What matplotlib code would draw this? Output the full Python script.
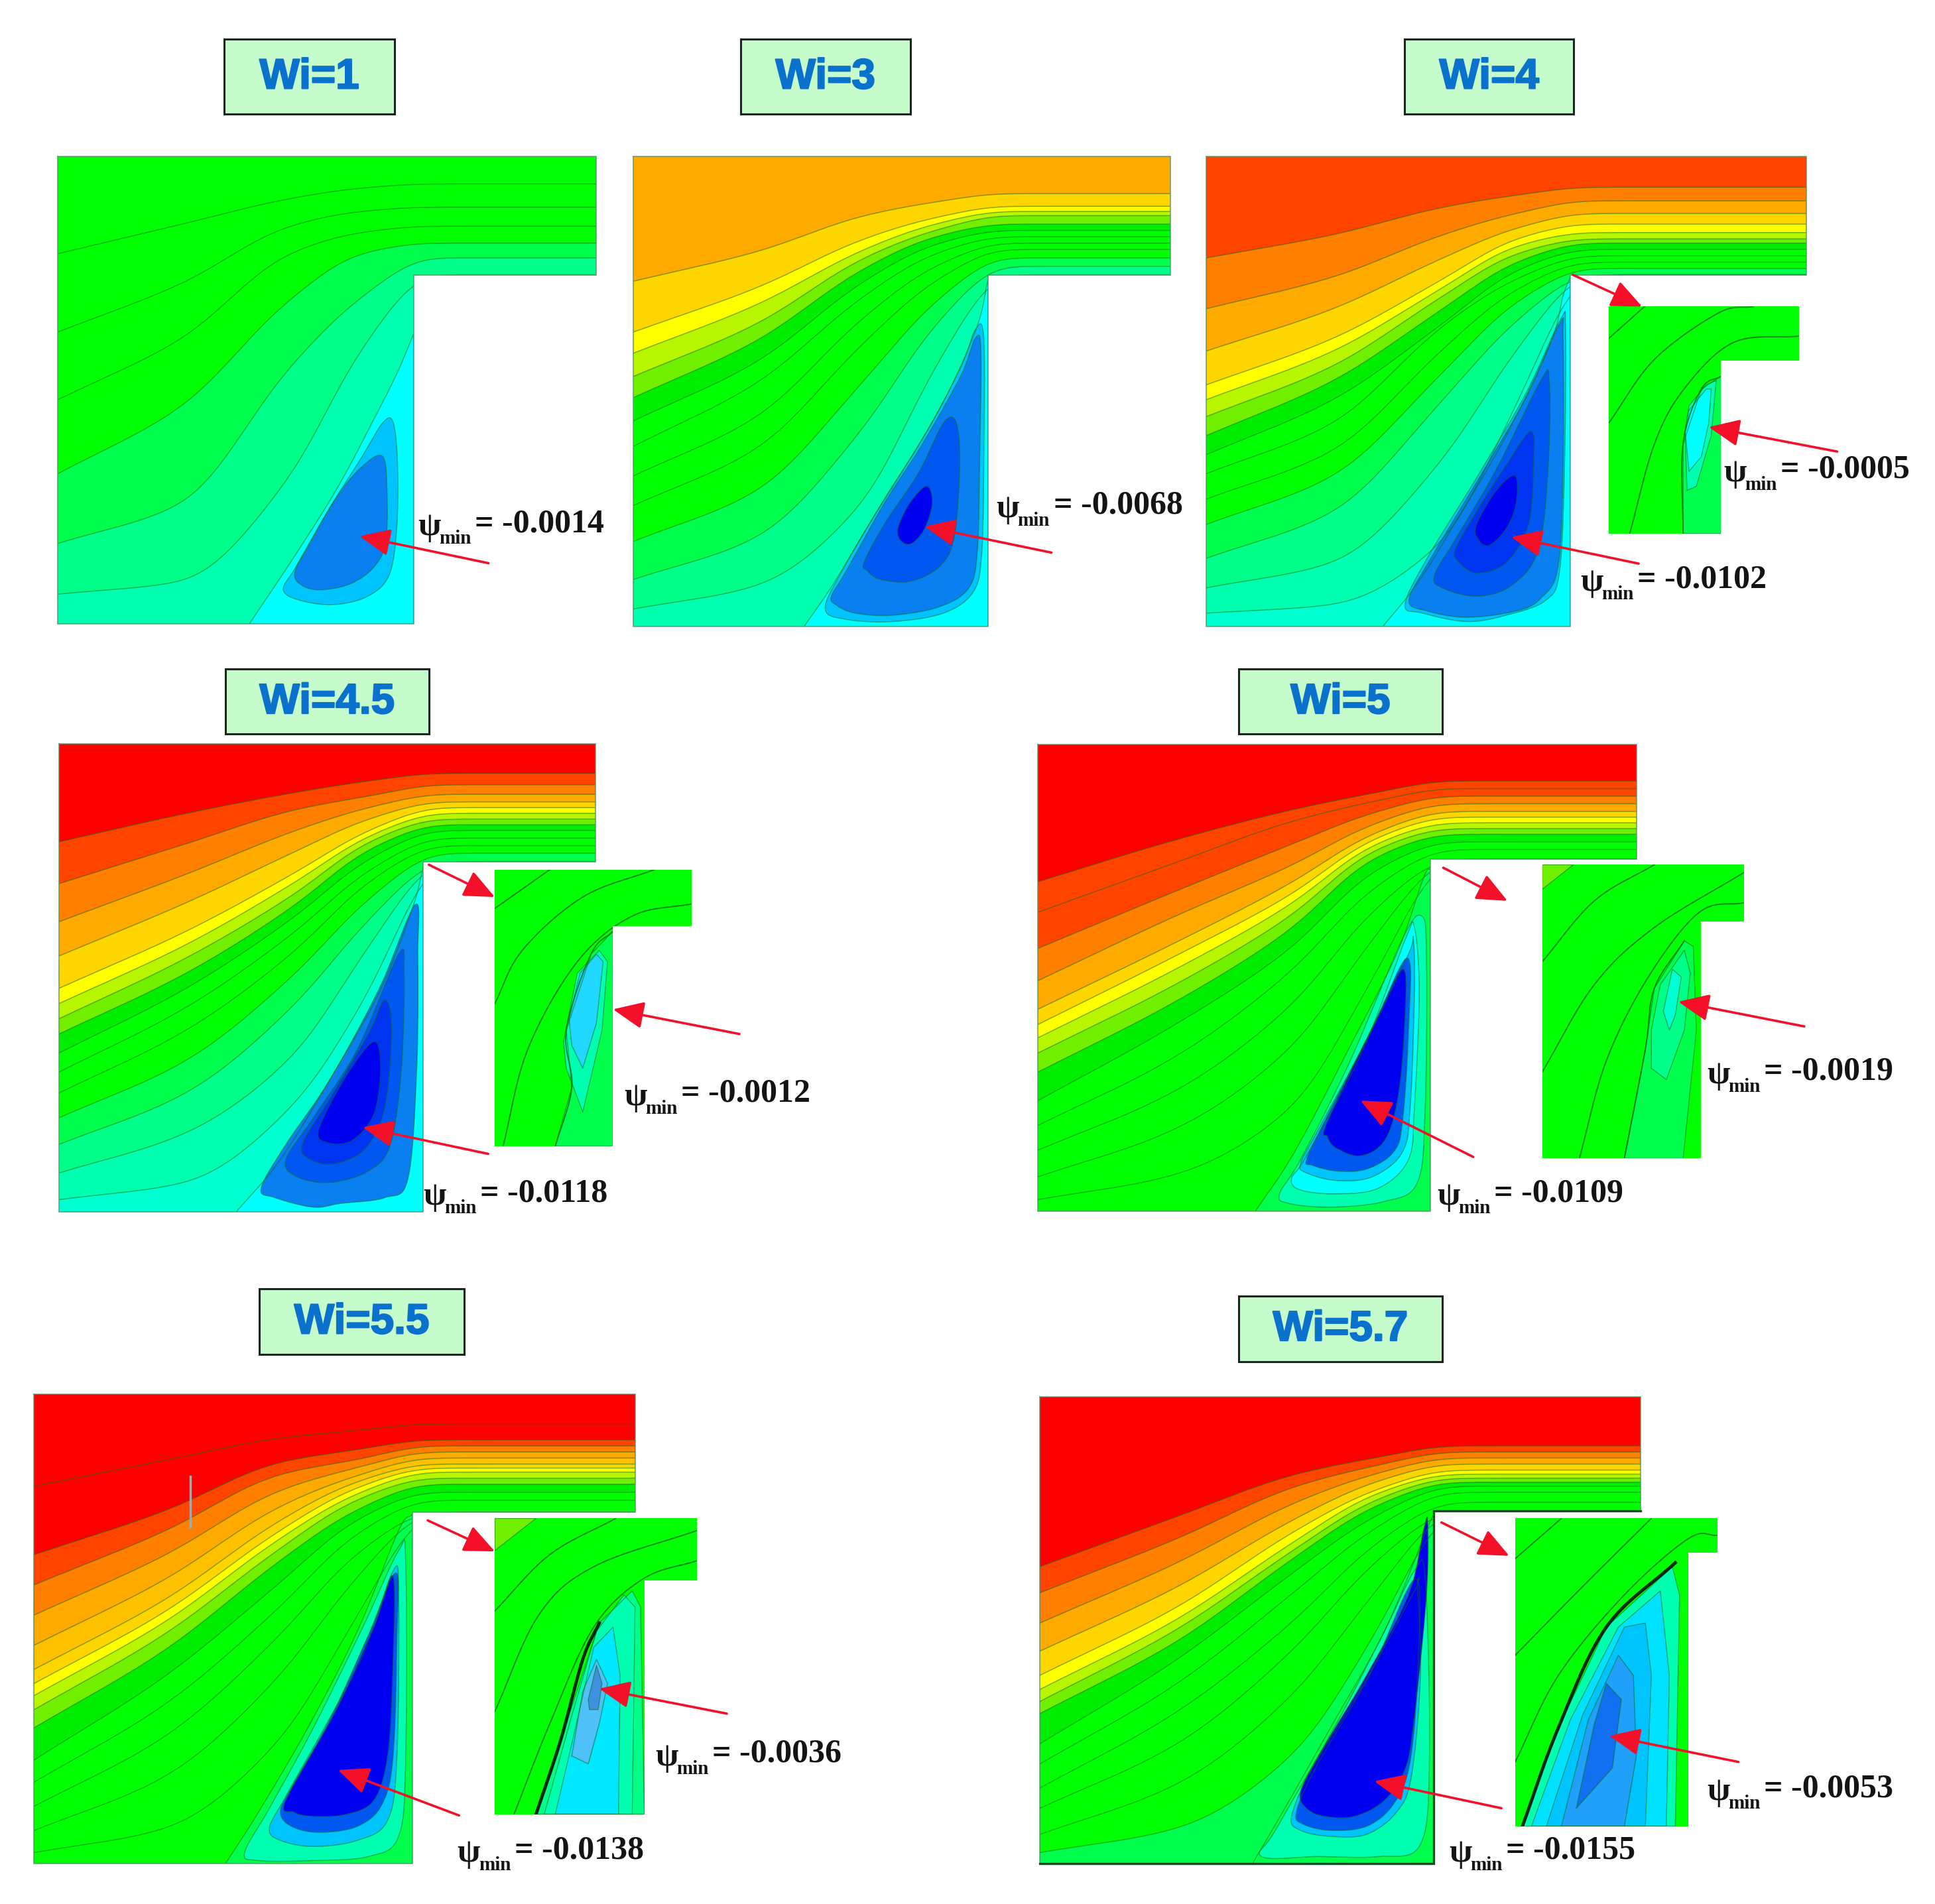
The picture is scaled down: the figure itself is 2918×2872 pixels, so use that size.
import numpy as np
import matplotlib
matplotlib.use("Agg")
import matplotlib.pyplot as plt
import matplotlib.patheffects as pe
from matplotlib.patches import PathPatch, Polygon, Rectangle, FancyArrowPatch
from matplotlib.path import Path

W_PX, H_PX = 2918, 2872
SIDE = 1568.0

# ---- colours of the contour levels ----
RED, ORR, ORA, AMB, GOLD, YEL = "#FF0000", "#FF4400", "#FF7F00", "#FFAA00", "#FFD500", "#FFFF00"
LIM, LGR, GRN, GRD = "#B8F500", "#70F000", "#00FF00", "#00EE00"
SG1, SG2, SG3, SG4, CYA = "#00FF4C", "#00FF88", "#00FFB0", "#00FFD0", "#00FFFF"
SKY, AZU, BL1, BL2, BLU = "#00C4FF", "#0A80F0", "#0058F0", "#0034F0", "#0000F0"

# ---- every table is read from the picture, in coordinates of a crop (x, y, w, h) ----
# columns of a contour: y at 0, .35, .65, .85 of the upstream width, then y in the channel
WI1_FRAME = (0, 0, 1000, 1000)
WI1_BOX = (530, 92, 933, 270)
WI1_GEOM = (137, 370, 1410, 650, 978, 1475)
WI1_TOP = GRN
WI1_CURVES = [[600, 530, 470, 445, 435], [785, 670, 535, 500, 490], [945, 800, 600, 550, 535],
              [1120, 960, 710, 600, 575], [1285, 1190, 870, 705, 610], [1405, 1375, 1130, 830, 650]]
WI1_COLORS = [GRN, GRN, GRN, SG1, SG2, SG3]
WI1_WEDGE = [(590, 1475), (700, 1310), (800, 1150), (890, 980), (940, 880), (978, 790)]
WI1_BLOBS = [(SKY, [(670, 1395), (700, 1340), (780, 1200), (850, 1090), (905, 1000), (930, 1000), (940, 1100),
                    (938, 1250), (920, 1360), (870, 1410), (790, 1430), (710, 1420)]),
             (AZU, [(697, 1355), (730, 1290), (800, 1170), (860, 1100), (905, 1080), (915, 1160), (912, 1280),
                    (885, 1340), (830, 1380), (760, 1395), (715, 1385)])]

WI3_FRAME = (900, 0, 1000, 1000)
WI3_BOX = (340, 92, 741, 270)
WI3_GEOM = (87, 370, 1357, 650, 925, 1482)
WI3_TOP = AMB
WI3_CURVES = [[665, 595, 510, 478, 458], [785, 680, 565, 515, 488], [835, 720, 590, 530, 500],
              [890, 765, 610, 545, 510], [940, 805, 635, 560, 530], [995, 855, 665, 578, 545],
              [1055, 905, 700, 600, 560], [1125, 985, 750, 630, 575], [1195, 1060, 810, 665, 590],
              [1280, 1160, 900, 715, 610], [1370, 1270, 1010, 770, 630], [1440, 1385, 1185, 870, 650]]
WI3_COLORS = [GOLD, YEL, LIM, LGR, GRD, GRN, GRN, GRN, GRN, SG1, SG2, SG3]
WI3_WEDGE = [(490, 1482), (560, 1380), (650, 1230), (750, 1070), (830, 930), (900, 770), (925, 660)]
WI3_BLOBS = [(SKY, [(540, 1440), (580, 1350), (680, 1180), (775, 1030), (860, 870), (895, 780), (915, 800),
                    (915, 1100), (910, 1310), (890, 1400), (820, 1450), (700, 1470), (590, 1465)]),
             (AZU, [(555, 1410), (590, 1350), (680, 1190), (770, 1050), (860, 890), (895, 800), (908, 830),
                    (905, 1100), (900, 1300), (880, 1390), (810, 1435), (700, 1455), (610, 1450), (565, 1430)]),
             (BL1, [(632, 1330), (680, 1240), (760, 1120), (820, 1000), (850, 1000), (858, 1100), (845, 1270),
                    (810, 1340), (740, 1375), (670, 1370), (640, 1350)]),
             (BLU, [(712, 1250), (740, 1190), (780, 1150), (793, 1190), (775, 1250), (745, 1285), (720, 1280)])]

WI4_FRAME = (1750, 0, 1168, 1000)
WI4_BOX = (494, 92, 837, 270)
WI4_GEOM = (93, 370, 1307, 650, 830, 1482)
WI4_TOP = ORR
WI4_CURVES = [[610, 555, 490, 462, 443], [730, 655, 555, 505, 475], [830, 730, 610, 540, 505],
              [910, 800, 660, 565, 530], [945, 830, 680, 582, 550], [985, 865, 700, 600, 565],
              [1030, 900, 730, 620, 575], [1075, 945, 765, 640, 590], [1120, 1000, 770, 660, 605],
              [1180, 1065, 825, 685, 620], [1240, 1125, 880, 715, 635], [1320, 1210, 945, 760, 650],
              [1390, 1330, 1085, 830, 650], [1450, 1430, 1280, 960, 650]]
WI4_COLORS = [ORA, AMB, GOLD, YEL, LIM, LGR, GRD, GRN, GRN, GRN, SG1, SG2, SG3, SG4]
WI4_WEDGE = [(450, 1482), (520, 1380), (600, 1230), (700, 1030), (790, 810), (815, 700), (830, 655)]
WI4_BLOBS = [(SKY, [(495, 1430), (540, 1320), (640, 1130), (740, 930), (810, 755), (820, 780), (818, 1100),
                    (808, 1350), (780, 1420), (700, 1455), (620, 1470), (530, 1450)]),
             (AZU, [(503, 1420), (545, 1325), (640, 1140), (740, 940), (808, 765), (815, 800), (815, 1100),
                    (805, 1340), (770, 1415), (720, 1445), (620, 1460), (540, 1445)]),
             (BL1, [(555, 1360), (600, 1270), (680, 1110), (770, 900), (787, 900), (785, 1100), (765, 1300),
                    (710, 1385), (640, 1410), (570, 1390)]),
             (BL2, [(597, 1300), (640, 1210), (700, 1100), (750, 1020), (755, 1100), (745, 1240), (700, 1330),
                    (640, 1355), (605, 1330)]),
             (BLU, [(640, 1240), (680, 1160), (718, 1125), (720, 1190), (700, 1250), (665, 1290), (643, 1275)])]

WI45_FRAME = (0, 980, 1300, 900)
WI45_BOX = (410, 50, 780, 222)
WI45_GEOM = (107, 248, 1083, 557, 770, 1477)
WI45_TOP = RED
WI45_CURVES = [[505, 430, 375, 345, 325], [615, 510, 420, 385, 355], [715, 590, 475, 415, 380],
               [805, 665, 530, 445, 400], [890, 740, 585, 475, 415], [930, 775, 610, 490, 430],
               [970, 810, 640, 505, 445], [1010, 850, 670, 525, 460], [1060, 890, 700, 550, 475],
               [1110, 940, 740, 580, 495], [1165, 1000, 790, 610, 515], [1230, 1080, 850, 655, 535],
               [1300, 1165, 930, 710, 557], [1375, 1270, 1060, 780, 557], [1445, 1400, 1190, 900, 557]]
WI45_COLORS = [ORR, ORA, AMB, GOLD, YEL, LIM, LGR, GRD, GRN, GRN, GRN, SG1, SG2, SG3, SG4]
WI45_WEDGE = [(430, 1477), (510, 1340), (600, 1130), (690, 900), (750, 680), (770, 570)]
WI45_BLOBS = [(AZU, [(475, 1415), (520, 1300), (600, 1130), (690, 890), (755, 670), (760, 800), (758, 1100),
                     (742, 1390), (700, 1440), (620, 1455), (570, 1465), (500, 1440)]),
              (BL1, [(520, 1340), (570, 1230), (650, 1050), (725, 800), (735, 850), (730, 1100), (710, 1300),
                     (670, 1370), (600, 1400), (540, 1385)]),
              (BL2, [(550, 1300), (600, 1180), (670, 1010), (700, 920), (712, 1000), (700, 1200), (665, 1310),
                     (610, 1350), (565, 1340)]),
              (BLU, [(580, 1260), (630, 1120), (680, 1030), (692, 1100), (680, 1220), (640, 1290), (595, 1295)])]

WI5_FRAME = (1500, 980, 1418, 900)
WI5_BOX = (407, 50, 746, 222)
WI5_GEOM = (72, 250, 1070, 550, 727, 1475)
WI5_TOP = RED
WI5_CURVES = [[610, 500, 420, 378, 345], [690, 560, 450, 400, 365], [785, 635, 510, 430, 385],
              [870, 700, 565, 460, 405], [945, 770, 610, 485, 425], [985, 805, 640, 500, 440],
              [1020, 840, 665, 515, 455], [1060, 880, 695, 530, 470], [1110, 925, 730, 550, 485],
              [1185, 985, 780, 585, 505], [1250, 1070, 840, 630, 525], [1315, 1160, 930, 690, 550],
              [1385, 1260, 1040, 765, 550], [1445, 1380, 1200, 870, 550]]
WI5_COLORS = [ORR, ORR, ORA, AMB, GOLD, YEL, LIM, LGR, GRD, GRN, GRN, GRN, GRN, GRN]
WI5_WEDGE = [(435, 1475), (500, 1320), (590, 1050), (670, 800), (715, 600), (727, 575)]
WI5_WEDGE_COLOR = SG1
WI5_BLOBS = [(SG3, [(475, 1430), (510, 1340), (590, 1090), (680, 760), (712, 700), (720, 800), (718, 1200),
                    (705, 1400), (650, 1450), (560, 1465), (490, 1455)]),
             (CYA, [(495, 1390), (520, 1330), (612, 1060), (685, 760), (700, 730), (708, 900), (700, 1200),
                    (690, 1340), (640, 1415), (570, 1430), (510, 1420)]),
             (SKY, [(510, 1350), (540, 1260), (622, 1020), (690, 800), (698, 760), (700, 900), (693, 1200),
                    (680, 1320), (630, 1385), (570, 1395), (520, 1375)]),
             (BL1, [(520, 1340), (550, 1240), (628, 1000), (688, 810), (690, 1000), (680, 1240), (665, 1320),
                    (620, 1365), (570, 1370), (530, 1355)]),
             (BLU, [(555, 1240), (640, 960), (682, 840), (683, 1000), (672, 1180), (650, 1290), (610, 1330),
                    (570, 1310), (555, 1280)])]

WI55_FRAME = (0, 1920, 1300, 952)
WI55_BOX = (472, 40, 844, 202)
WI55_GEOM = (62, 302, 1155, 595, 750, 1468)
WI55_TOP = RED
WI55_CURVES = [[530, 465, 410, 392, 375], [700, 590, 470, 440, 415], [775, 640, 500, 465, 430],
               [850, 700, 540, 485, 445], [925, 760, 580, 505, 460], [985, 810, 615, 520, 475],
               [1020, 840, 640, 535, 485], [1050, 865, 660, 550, 495], [1085, 895, 685, 565, 510],
               [1130, 935, 715, 590, 525], [1210, 1000, 770, 615, 545], [1265, 1070, 830, 650, 565],
               [1325, 1150, 900, 700, 595], [1385, 1250, 1000, 760, 595], [1440, 1380, 1160, 860, 595]]
WI55_COLORS = [RED, ORR, ORA, AMB, "#FFC000", GOLD, YEL, LIM, LGR, GRD, GRN, GRN, GRN, GRN, GRN]
WI55_WEDGE = [(410, 1468), (470, 1340), (560, 1130), (650, 890), (725, 640), (750, 600)]
WI55_WEDGE_COLOR = SG1
WI55_BLOBS = [(SG3, [(445, 1440), (490, 1330), (570, 1130), (660, 880), (725, 690), (738, 720), (738, 1200),
                     (725, 1400), (670, 1450), (570, 1460), (470, 1460)]),
              (SKY, [(490, 1380), (520, 1300), (590, 1130), (660, 950), (715, 740), (725, 800), (722, 1200),
                     (705, 1360), (650, 1410), (570, 1425), (510, 1410)]),
              (BL1, [(510, 1340), (530, 1280), (600, 1110), (670, 900), (720, 745), (722, 900), (715, 1200),
                     (695, 1320), (650, 1375), (580, 1390), (530, 1375)]),
              (BLU, [(520, 1310), (610, 1090), (680, 880), (715, 755), (714, 1000), (705, 1200), (680, 1310),
                     (630, 1345), (570, 1350), (535, 1340)])]
WI55_BAR = [(346, 505), (346, 630)]

WI57_FRAME = (1500, 1920, 1418, 952)
WI57_BOX = (407, 57, 746, 220)
WI57_GEOM = (75, 308, 1077, 592, 732, 1467)
WI57_TOP = RED
WI57_CURVES = [[730, 605, 500, 460, 430], [795, 660, 530, 480, 445], [870, 720, 570, 500, 460],
               [940, 780, 610, 520, 475], [1000, 830, 640, 540, 490], [1035, 860, 665, 550, 500],
               [1065, 885, 685, 565, 510], [1095, 915, 705, 580, 520], [1170, 960, 740, 605, 530],
               [1220, 1020, 790, 635, 545], [1280, 1090, 860, 675, 570], [1330, 1170, 930, 720, 592],
               [1395, 1270, 1040, 795, 592], [1440, 1380, 1190, 900, 592]]
WI57_COLORS = [ORR, ORA, AMB, GOLD, YEL, LIM, LGR, GRD, GRN, GRN, GRN, GRN, GRN, SG1]
WI57_WEDGE = [(430, 1467), (480, 1340), (560, 1130), (650, 890), (720, 640), (732, 600)]
WI57_WEDGE_COLOR = SG1
WI57_BLOBS = [(SG3, [(445, 1450), (470, 1380), (570, 1120), (650, 890), (700, 740), (718, 760), (725, 1200),
                     (710, 1420), (640, 1450), (540, 1450)]),
              (SKY, [(495, 1350), (530, 1230), (620, 1010), (700, 790), (705, 780), (710, 1000), (695, 1250),
                     (670, 1340), (620, 1395), (560, 1400), (510, 1385)]),
              (BL1, [(503, 1340), (535, 1230), (625, 1000), (702, 760), (705, 1000), (692, 1220), (665, 1320),
                     (620, 1375), (560, 1385), (515, 1370)]),
              (BLU, [(510, 1290), (540, 1200), (620, 1000), (690, 800), (715, 640), (722, 620), (720, 800),
                     (700, 1100), (685, 1230), (650, 1310), (600, 1350), (550, 1350), (520, 1330)])]

# ---- enlarged insets: outline, faceted patches, contour lines ----
WI4_IN_GEOM = (908, 725, 1293, 853, 1135, 1262)
WI4_IN_PATCHES = [(SG1, [(1058, 1262), (1058, 1050), (1095, 920), (1135, 890), (1135, 1262)]),
                  (SG3, [(1066, 1160), (1062, 1020), (1070, 960), (1105, 910), (1125, 900), (1115, 1030), (1085, 1150)]),
                  (CYA, [(1070, 970), (1105, 920), (1115, 920), (1110, 1000), (1095, 1080), (1070, 1115), (1062, 1020)])]
WI4_IN_LINES = [[(908, 800), (980, 725)], [(908, 1000), (1000, 850), (1130, 740), (1200, 725)],
                [(950, 1262), (1000, 1050), (1060, 920), (1160, 810), (1293, 795)],
                [(1058, 1262), (1058, 1050), (1095, 920), (1135, 890)]]
WI45_IN_GEOM = (900, 578, 1258, 727, 1115, 1305)
WI45_IN_PATCHES = [(SG1, [(1010, 1305), (1040, 1150), (1030, 1000), (1075, 800), (1115, 740), (1115, 1305)]),
                   (SG3, [(1025, 1030), (1050, 850), (1090, 790), (1105, 820), (1095, 1000), (1060, 1215), (1030, 1100)]),
                   ("#20D8FF", [(1035, 970), (1055, 850), (1085, 800), (1097, 820), (1085, 980), (1060, 1100), (1040, 1040)])]
WI45_IN_LINES = [[(900, 680), (1000, 578)], [(900, 930), (950, 790), (1060, 650), (1190, 578)],
                 [(915, 1305), (960, 1050), (1050, 820), (1150, 700), (1258, 668)],
                 [(1010, 1305), (1040, 1150), (1030, 1000), (1075, 800), (1115, 740)]]
WI5_IN_GEOM = (913, 565, 1250, 715, 1178, 1337)
WI5_IN_PATCHES = [(LGR, [(913, 565), (965, 565), (913, 630)]),
                  (SG1, [(1050, 1337), (1085, 1050), (1100, 890), (1150, 765), (1165, 780), (1170, 1000), (1148, 1337)]),
                  (SG2, [(1095, 1100), (1095, 1000), (1110, 880), (1150, 790), (1160, 850), (1150, 1000), (1120, 1130)]),
                  (SG4, [(1115, 950), (1130, 840), (1145, 860), (1135, 960), (1125, 1000)])]
WI5_IN_LINES = [[(913, 820), (1000, 660), (1100, 565)], [(913, 1110), (1000, 880), (1100, 730), (1250, 585)],
                [(975, 1337), (1020, 1080), (1090, 860), (1175, 690), (1250, 665)],
                [(1050, 1337), (1085, 1050), (1100, 890), (1150, 765)]]
WI55_IN_GEOM = (900, 610, 1268, 765, 1172, 1345)
WI55_IN_PATCHES = [(LGR, [(900, 610), (975, 610), (900, 690)]),
                   (SG2, [(975, 1345), (1030, 1120), (1090, 870), (1150, 790), (1165, 830), (1172, 1345)]),
                   (SG3, [(990, 1345), (1040, 1100), (1085, 890), (1135, 800), (1155, 830), (1150, 1345)]),
                   ("#00E8FF", [(1010, 1345), (1040, 1170), (1080, 930), (1115, 880), (1128, 1000), (1125, 1345)]),
                   ("#50C0F8", [(1040, 1200), (1060, 1040), (1085, 960), (1105, 1020), (1090, 1120), (1070, 1220)]),
                   ("#4090E0", [(1070, 1060), (1085, 975), (1095, 1020), (1088, 1085), (1072, 1085)])]
WI55_IN_LINES = [[(900, 840), (1000, 700), (1120, 610)], [(900, 1090), (980, 850), (1080, 730), (1268, 640)],
                 [(935, 1345), (1000, 1120), (1080, 880), (1170, 760), (1268, 715)]]
WI55_IN_EDGE = [(975, 1345), (1020, 1160), (1060, 960), (1090, 870)]
WI57_IN_GEOM = (868, 610, 1205, 695, 1157, 1375)
WI57_IN_PATCHES = [(SG3, [(880, 1375), (940, 1130), (1020, 880), (1130, 730), (1142, 800), (1135, 1375)]),
                   ("#00E0FF", [(895, 1375), (960, 1110), (1040, 880), (1110, 790), (1125, 1000), (1120, 1375)]),
                   (SKY, [(920, 1375), (980, 1100), (1050, 880), (1085, 870), (1095, 1000), (1085, 1375)]),
                   ("#20A0F8", [(945, 1375), (990, 1110), (1040, 950), (1065, 1000), (1070, 1200), (1050, 1375)]),
                   ("#1070F0", [(970, 1330), (1000, 1120), (1020, 1020), (1045, 1060), (1030, 1230)])]
WI57_IN_LINES = [[(868, 710), (945, 610)], [(868, 950), (980, 780), (1095, 610)],
                 [(868, 1215), (940, 1000), (1050, 800), (1157, 660), (1205, 652)]]
WI57_IN_EDGE = [(880, 1375), (940, 1130), (1020, 880), (1135, 720)]

# ---- labels and arrows (tail, head) ----
TITLES = ["Wi=1", "Wi=3", "Wi=4", "Wi=4.5", "Wi=5", "Wi=5.5", "Wi=5.7"]
WI1_TEXT = [("-0.0014", 988, 1258)]
WI3_TEXT = [("-0.0068", 945, 1215)]
WI4_TEXT = [("-0.0102", 850, 1390), ("-0.0005", 1140, 1130)]
WI45_TEXT = [("-0.0118", 770, 1450), ("-0.0012", 1135, 1188)]
WI5_TEXT = [("-0.0109", 738, 1450), ("-0.0019", 1188, 1130)]
WI55_TEXT = [("-0.0138", 832, 1455), ("-0.0036", 1192, 1215)]
WI57_TEXT = [("-0.0155", 758, 1455), ("-0.0053", 1188, 1302)]
WI1_ARROWS = [((1155, 1332), (850, 1268))]
WI3_ARROWS = [((1075, 1307), (775, 1245))]
WI4_ARROWS = [((835, 650), (975, 725)), ((1370, 1068), (1110, 1010)), ((968, 1333), (710, 1270))]
WI45_ARROWS = [((780, 565), (900, 650)), ((1345, 1010), (1115, 945)), ((888, 1325), (660, 1255))]
WI5_ARROWS = [((748, 573), (855, 660)), ((1350, 990), (1140, 925)), ((798, 1333), (610, 1185))]
WI55_ARROWS = [((778, 615), (900, 692)), ((1322, 1095), (1090, 1033)), ((835, 1348), (615, 1235))]
WI57_ARROWS = [((745, 620), (858, 703)), ((1240, 1215), (1025, 1150)), ((845, 1330), (633, 1263))]
WI55_BAR_COLOR = "#A8A8A8"

LINE = "#0A6A14"
ARROW = "#F5102A"
U_STOPS = [0.0, 0.35, 0.65, 0.85, 1.05, 1.15]

fig = plt.figure(figsize=(W_PX / 100, H_PX / 100), dpi=100, facecolor="white")
ax = fig.add_axes([0, 0, 1, 1])
ax.set_xlim(0, W_PX)
ax.set_ylim(H_PX, 0)
ax.axis("off")


def pchip(x, y, xi):
    x, y = np.asarray(x, float), np.asarray(y, float)
    h = np.diff(x)
    d = np.diff(y) / h
    m = np.zeros_like(y)
    m[0], m[-1] = d[0], d[-1]
    for i in range(1, len(x) - 1):
        if d[i - 1] * d[i] > 0:
            w1, w2 = 2 * h[i] + h[i - 1], h[i] + 2 * h[i - 1]
            m[i] = (w1 + w2) / (w1 / d[i - 1] + w2 / d[i])
    k = np.clip(np.searchsorted(x, xi) - 1, 0, len(h) - 1)
    t = (xi - x[k]) / h[k]
    return ((2 * t**3 - 3 * t**2 + 1) * y[k] + (t**3 - 2 * t**2 + t) * h[k] * m[k]
            + (-2 * t**3 + 3 * t**2) * y[k + 1] + (t**3 - t**2) * h[k] * m[k + 1])


def soften(yi, dx, width):
    n = int(width / dx)
    if n < 1:
        return yi
    kx = np.arange(-3 * n, 3 * n + 1)
    kern = np.exp(-0.5 * (kx / n) ** 2)
    kern /= kern.sum()
    slope = yi[1] - yi[0]
    left = yi[0] + slope * np.arange(-3 * n, 0)
    right = np.full(3 * n, yi[-1])
    return np.convolve(np.concatenate([left, yi, right]), kern, mode="valid")


def spline(pts, closed):
    p = np.asarray(pts, float)
    if closed:
        q = np.vstack([p[-1], p, p[0], p[1]])
    else:
        q = np.vstack([2 * p[0] - p[1], p, 2 * p[-1] - p[-2]])
    out = []
    t = np.linspace(0, 1, 16, endpoint=False)[:, None]
    for i in range(len(q) - 3):
        a, b, c, d = q[i], q[i + 1], q[i + 2], q[i + 3]
        out.append(0.5 * (2 * b + (c - a) * t + (2 * a - 5 * b + 4 * c - d) * t**2 + (3 * b - a - 3 * c + d) * t**3))
    out = np.vstack(out)
    return out if closed else np.vstack([out, p[-1]])


def mapper(frame):
    fx, fy, fw, fh = frame
    return lambda pts: np.asarray(pts, float) * [fw / SIDE, fh / SIDE] + [fx, fy]


def domain(m, geom, top_color):
    L, T, R, C, S, B = geom
    outline = m([(L, T), (R, T), (R, C), (S, C), (S, B), (L, B), (L, T)])
    edge = PathPatch(Path(outline, closed=True), fc=top_color, ec="none", zorder=1)
    ax.add_patch(edge)
    return outline, edge


def frame_line(outline, color="#4F8F66", lw=1.2):
    ax.plot(outline[:, 0], outline[:, 1], color=color, lw=lw, alpha=0.8, zorder=6, solid_joinstyle="miter")


def filled(points, color, clip, line=True, lw=1.1, alpha=0.5):
    p = Polygon(points, closed=True, fc=color, ec="none", zorder=2)
    ax.add_patch(p)
    p.set_clip_path(clip)
    if line:
        l, = ax.plot(points[:, 0], points[:, 1], color=LINE, lw=lw, alpha=alpha, zorder=3)
        l.set_clip_path(clip)


def main_panel(frame, box, title, geom, top, curves, colors, wedge, blobs, texts, arrows, wedge_color=CYA):
    m = mapper(frame)
    L, T, R, C, S, B = geom
    outline, clip = domain(m, geom, top)
    # contours, painted from the top band downwards
    xs_cr = [L + u * (S - L) for u in U_STOPS] + [R]
    xi = np.linspace(L, R, 900)
    dx = xi[1] - xi[0]
    for row, col in zip(curves, colors):
        ys = list(row) + [row[-1], row[-1]]
        yi = soften(pchip(xs_cr, ys, xi), dx, 0.045 * (S - L))
        curve = m(np.column_stack([xi, yi]))
        poly = np.vstack([curve, m([(R, B), (L, B)])])
        p = Polygon(poly, closed=True, fc=col, ec="none", zorder=2)
        ax.add_patch(p)
        p.set_clip_path(clip)
        l, = ax.plot(curve[:, 0], curve[:, 1], color=LINE, lw=1.1, alpha=0.5, zorder=3)
        l.set_clip_path(clip)
    wpts = m(spline(wedge, False))
    filled(np.vstack([wpts, m([(S, B)])]), wedge_color, clip)
    for col, pts in blobs:
        filled(m(spline(pts, True)), col, clip)
    frame_line(outline)
    title_box(m, box, title)
    labels(m, texts)
    draw_arrows(m, arrows)
    return m, outline


def inset(m, geom, patches, lines, edge_line=None):
    outline, clip = domain(m, geom, GRN)
    for col, pts in patches:
        filled(np.vstack([m(pts), m(pts[:1])]), col, clip, lw=1.0, alpha=0.55)
    for ln in lines:
        l, = ax.plot(*m(spline(ln, False)).T, color=LINE, lw=1.4, alpha=0.8, zorder=4)
        l.set_clip_path(clip)
    if edge_line is not None:
        l, = ax.plot(*m(spline(edge_line, False)).T, color="#082808", lw=3.5, zorder=5)
        l.set_clip_path(clip)


def title_box(m, box, title):
    x0, y0, x1, y1 = box
    (a, b), (c, d) = m([(x0, y0), (x1, y1)])
    ax.add_patch(Rectangle((a, b), c - a, d - b, fc="#C6FBCB", ec="#1C2420", lw=2.2, zorder=7))
    t = ax.text((a + c) / 2, (b + d) / 2 + 1, title, family="Liberation Sans", weight="bold", size=46,
                color="#0A72CC", ha="center", va="center", zorder=8)
    t.set_path_effects([pe.withStroke(linewidth=1.6, foreground="#0A72CC")])


def labels(m, texts):
    for value, x, y in texts:
        px, py = m([(x, y)])[0]
        kw = dict(family="Liberation Serif", weight="bold", color="#141414", zorder=9, va="baseline", ha="left")
        ax.text(px, py + 5, "\u03c8", size=36, **kw)
        ax.text(px + 32, py + 18, "min", size=21, **kw)
        ax.text(px + 86, py, "= " + value, size=36, **kw)


def draw_arrows(m, arrows):
    for tail, head in arrows:
        t, h = m([tail, head])
        ax.add_patch(FancyArrowPatch(t, h, arrowstyle="-|>,head_length=0.95,head_width=0.42", mutation_scale=30,
                                     color=ARROW, lw=2.6, shrinkA=0, shrinkB=0, zorder=10))


main_panel(WI1_FRAME, WI1_BOX, TITLES[0], WI1_GEOM, WI1_TOP, WI1_CURVES, WI1_COLORS, WI1_WEDGE, WI1_BLOBS,
           WI1_TEXT, WI1_ARROWS)
main_panel(WI3_FRAME, WI3_BOX, TITLES[1], WI3_GEOM, WI3_TOP, WI3_CURVES, WI3_COLORS, WI3_WEDGE, WI3_BLOBS,
           WI3_TEXT, WI3_ARROWS)

m4, _ = main_panel(WI4_FRAME, WI4_BOX, TITLES[2], WI4_GEOM, WI4_TOP, WI4_CURVES, WI4_COLORS, WI4_WEDGE, WI4_BLOBS,
                   WI4_TEXT, [])
inset(m4, WI4_IN_GEOM, WI4_IN_PATCHES, WI4_IN_LINES)
draw_arrows(m4, WI4_ARROWS)

m45, _ = main_panel(WI45_FRAME, WI45_BOX, TITLES[3], WI45_GEOM, WI45_TOP, WI45_CURVES, WI45_COLORS, WI45_WEDGE,
                    WI45_BLOBS, WI45_TEXT, [])
inset(m45, WI45_IN_GEOM, WI45_IN_PATCHES, WI45_IN_LINES)
draw_arrows(m45, WI45_ARROWS)

m5, _ = main_panel(WI5_FRAME, WI5_BOX, TITLES[4], WI5_GEOM, WI5_TOP, WI5_CURVES, WI5_COLORS, WI5_WEDGE, WI5_BLOBS,
                   WI5_TEXT, [], wedge_color=WI5_WEDGE_COLOR)
inset(m5, WI5_IN_GEOM, WI5_IN_PATCHES, WI5_IN_LINES)
draw_arrows(m5, WI5_ARROWS)

m55, _ = main_panel(WI55_FRAME, WI55_BOX, TITLES[5], WI55_GEOM, WI55_TOP, WI55_CURVES, WI55_COLORS, WI55_WEDGE,
                    WI55_BLOBS, WI55_TEXT, [], wedge_color=WI55_WEDGE_COLOR)
inset(m55, WI55_IN_GEOM, WI55_IN_PATCHES, WI55_IN_LINES, WI55_IN_EDGE)
ax.plot(*m55(WI55_BAR).T, color=WI55_BAR_COLOR, lw=2.5, zorder=6)
draw_arrows(m55, WI55_ARROWS)

m57, o57 = main_panel(WI57_FRAME, WI57_BOX, TITLES[6], WI57_GEOM, WI57_TOP, WI57_CURVES, WI57_COLORS, WI57_WEDGE,
                      WI57_BLOBS, WI57_TEXT, [], wedge_color=WI57_WEDGE_COLOR)
ax.plot(o57[2:6, 0], o57[2:6, 1], color="#1E4A2A", lw=2.4, zorder=6, solid_joinstyle="miter")
inset(m57, WI57_IN_GEOM, WI57_IN_PATCHES, WI57_IN_LINES, WI57_IN_EDGE)
draw_arrows(m57, WI57_ARROWS)

fig.savefig("out.png", dpi=100, facecolor="white")
